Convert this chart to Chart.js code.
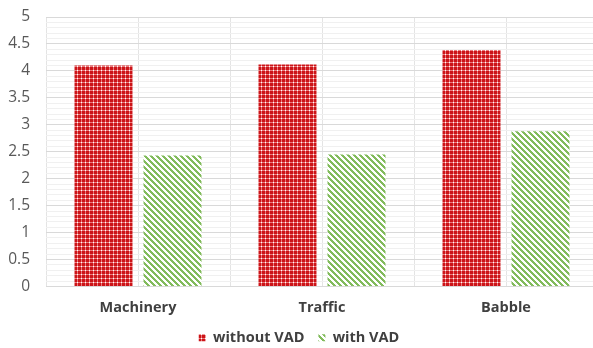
<!DOCTYPE html>
<html>
<head>
<meta charset="utf-8">
<script src="https://cdn.jsdelivr.net/npm/chart.js@4/dist/chart.umd.min.js"></script>
<style>
  html, body { margin: 0; padding: 0; background: #fff; overflow: hidden; }
  #wrap { width: 600px; height: 355px; }
</style>
</head>
<body>
<div id="wrap"><canvas id="grafico"></canvas></div>
<script>
const categorias = ["Machinery", "Traffic", "Babble"];
const sinVAD = [4.10, 4.12, 4.39];
const conVAD = [2.43, 2.45, 2.88];
const series = ["without VAD", "with VAD"];

// relleno punteado rojo
function patronRojo() {
  const c = document.createElement("canvas");
  c.width = 4; c.height = 4;
  const g = c.getContext("2d");
  g.fillStyle = "#cc1418";
  g.fillRect(0, 0, 4, 4);
  g.fillStyle = "#ea7a7c";
  g.fillRect(1, 0, 1, 4);
  g.fillRect(0, 2, 4, 1);
  g.fillStyle = "#ffffff";
  g.fillRect(1, 2, 1, 1);
  return g.createPattern(c, "repeat");
}

// relleno rayado verde
function patronVerde() {
  const c = document.createElement("canvas");
  c.width = 6; c.height = 6;
  const g = c.getContext("2d");
  g.fillStyle = "#ffffff";
  g.fillRect(0, 0, 6, 6);
  g.fillStyle = "#82bb5c";
  for (let y = 0; y < 6; y++) {
    for (let k = 0; k < 3; k++) {
      g.fillRect((y + k) % 6, y, 1, 1);
    }
  }
  return g.createPattern(c, "repeat");
}

const rojo = patronRojo();
const verde = patronVerde();

const esMayor = v => Math.abs(v * 2 - Math.round(v * 2)) < 1e-6;

new Chart(document.getElementById("grafico"), {
  type: "bar",
  data: {
    labels: categorias,
    datasets: [
      { label: series[0], data: sinVAD, backgroundColor: rojo, borderWidth: 0 },
      { label: series[1], data: conVAD, backgroundColor: verde, borderWidth: 0 }
    ]
  },
  options: {
    responsive: true,
    maintainAspectRatio: false,
    animation: false,
    layout: { padding: { top: 17, right: 2, left: 0, bottom: 0 } },
    datasets: { bar: { categoryPercentage: 0.75, barPercentage: 0.84 } },
    plugins: {
      tooltip: { enabled: false },
      legend: {
        position: "bottom",
        labels: {
          color: "#404040",
          boxWidth: 7,
          boxHeight: 7,
          padding: 14,
          font: { family: "'Open Sans'", size: 14.5, weight: "bold" }
        }
      }
    },
    scales: {
      x: {
        afterFit: s => { s.height = 30; },
        grid: { offset: true, color: "#e4e4e4", drawTicks: false },
        border: { display: false },
        ticks: {
          color: "#404040",
          padding: 13,
          font: { family: "'Open Sans'", size: 14.5, weight: "bold" }
        }
      },
      x2: {
        type: "category",
        position: "bottom",
        labels: categorias,
        offset: true,
        afterFit: s => { s.height = 0; },
        grid: { offset: false, color: "#e4e4e4", drawTicks: false },
        border: { display: false },
        ticks: { display: false }
      },
      y: {
        min: 0,
        max: 5,
        afterFit: s => { s.width = 46; s.paddingTop = 0; s.paddingBottom = 0; },
        grid: {
          drawTicks: false,
          color: ctx => esMayor(ctx.tick.value) ? "#d9d9d9" : "#f0f0f0"
        },
        border: { display: false },
        ticks: {
          stepSize: 0.1,
          autoSkip: false,
          padding: 16,
          color: "#595959",
          font: { family: "'Open Sans'", size: 15.5 },
          callback: v => esMayor(v) ? String(Math.round(v * 10) / 10) : ""
        }
      }
    }
  }
});
</script>
</body>
</html>
